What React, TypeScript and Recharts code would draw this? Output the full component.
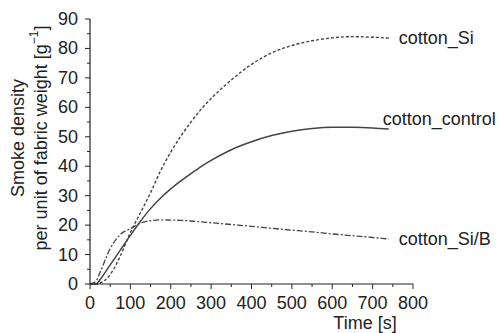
import React from "react";
import { LineChart, Line, XAxis, YAxis, Customized } from "recharts";

const times = [0, 15, 25, 50, 75, 100, 125, 150, 175, 200, 225, 250, 275, 300, 350, 400, 450, 500, 550, 600, 650, 700, 740];
const cottonSi = [0, 0, 0.3, 3.2, 9.5, 17.5, 24.2, 31, 38.5, 44.8, 50.2, 55, 59.3, 63, 69.3, 74.6, 78.5, 81, 82.6, 83.6, 84, 83.8, 83.5];
const cottonControl = [0, 0, 1.5, 6.5, 11.5, 16.5, 21.3, 25.6, 29.2, 32.3, 35, 37.5, 39.9, 42, 45.6, 48.3, 50.4, 51.9, 52.8, 53.2, 53.2, 53, 52.6];
const cottonSiB = [0, 1, 4, 12, 16.8, 18.8, 20.7, 21.5, 21.8, 21.7, 21.6, 21.4, 21.1, 20.8, 20.2, 19.6, 18.9, 18.3, 17.7, 17, 16.4, 15.8, 15.3];
const seriesNames = ["cotton_Si", "cotton_control", "cotton_Si/B"];
const xTicks = [0, 50, 100, 150, 200, 250, 300, 350, 400, 450, 500, 550, 600, 650, 700, 750, 800];
const yTicks = [0, 5, 10, 15, 20, 25, 30, 35, 40, 45, 50, 55, 60, 65, 70, 75, 80, 85, 90];

const data = times.map((t, i) => ({
  t,
  si: cottonSi[i],
  control: cottonControl[i],
  sib: cottonSiB[i],
}));

const FONT = "'Liberation Sans', Arial, sans-serif";
const INK = "#222";
const LINE = "#444";

const XTick = (props: any) => {
  const { x, y, payload } = props;
  const major = payload.value % 100 === 0;
  return (
    <g>
      <line x1={x} x2={x} y1={y} y2={y + (major ? 5 : 3)} stroke={INK} strokeWidth={1} />
      {major && (
        <text x={x} y={y + 25} textAnchor="middle" fontSize={18} fontFamily={FONT} fill={INK}>
          {payload.value}
        </text>
      )}
    </g>
  );
};

const YTick = (props: any) => {
  const { x, y, payload } = props;
  const major = payload.value % 10 === 0;
  return (
    <g>
      <line x1={x} x2={x - (major ? 5 : 3)} y1={y} y2={y} stroke={INK} strokeWidth={1} />
      {major && (
        <text x={x - 12} y={y} textAnchor="end" dominantBaseline="central" fontSize={18} fontFamily={FONT} fill={INK}>
          {payload.value}
        </text>
      )}
    </g>
  );
};

const makeEndLabel = (name: string, dx: number, dy: number) => (props: any) => {
  const { x, y, index } = props;
  if (index !== times.length - 1) return <g />;
  return (
    <text x={x + dx} y={y + dy} dominantBaseline="central" fontSize={18} fontFamily={FONT} fill={INK}>
      {name}
    </text>
  );
};

const AxisTitles = () => (
  <g fontFamily={FONT} fill={INK} fontSize={18}>
    <text x={365} y={329} textAnchor="middle">Time [s]</text>
    <text transform="translate(18,138) rotate(-90)" textAnchor="middle" dominantBaseline="central">
      Smoke density
    </text>
    <text transform="translate(41,138) rotate(-90)" textAnchor="middle" dominantBaseline="central">
      per unit of fabric weight [g<tspan dy={-7} fontSize={12}>−1</tspan>
      <tspan dy={7}>]</tspan>
    </text>
  </g>
);

export default function App() {
  return (
    <div style={{ position: "absolute", left: 0, top: 0, background: "#fff" }}>
      <LineChart width={500} height={333} data={data} margin={{ top: 19, right: 87, left: 0, bottom: 0 }}>
        <XAxis
          dataKey="t"
          type="number"
          domain={[0, 800]}
          ticks={xTicks}
          interval={0}
          height={49}
          tickSize={0}
          tickMargin={0}
          tickLine={false}
          tick={<XTick />}
          stroke={INK}
          axisLine={{ stroke: INK, strokeWidth: 1.2 }}
        />
        <YAxis
          type="number"
          domain={[0, 90]}
          ticks={yTicks}
          interval={0}
          width={90}
          tickSize={0}
          tickMargin={0}
          tickLine={false}
          tick={<YTick />}
          axisLine={{ stroke: INK, strokeWidth: 1.2 }}
        />
        <Line
          dataKey="si"
          name={seriesNames[0]}
          type="monotone"
          stroke={LINE}
          strokeWidth={1.4}
          strokeDasharray="3 2"
          dot={false}
          isAnimationActive={false}
          label={makeEndLabel(seriesNames[0], 10, 0)}
        />
        <Line
          dataKey="control"
          name={seriesNames[1]}
          type="monotone"
          stroke={LINE}
          strokeWidth={1.5}
          dot={false}
          isAnimationActive={false}
          label={makeEndLabel(seriesNames[1], -6, -10)}
        />
        <Line
          dataKey="sib"
          name={seriesNames[2]}
          type="monotone"
          stroke={LINE}
          strokeWidth={1.3}
          strokeDasharray="6 2 2 2"
          dot={false}
          isAnimationActive={false}
          label={makeEndLabel(seriesNames[2], 10, 0)}
        />
        <Customized component={AxisTitles} />
      </LineChart>
    </div>
  );
}
